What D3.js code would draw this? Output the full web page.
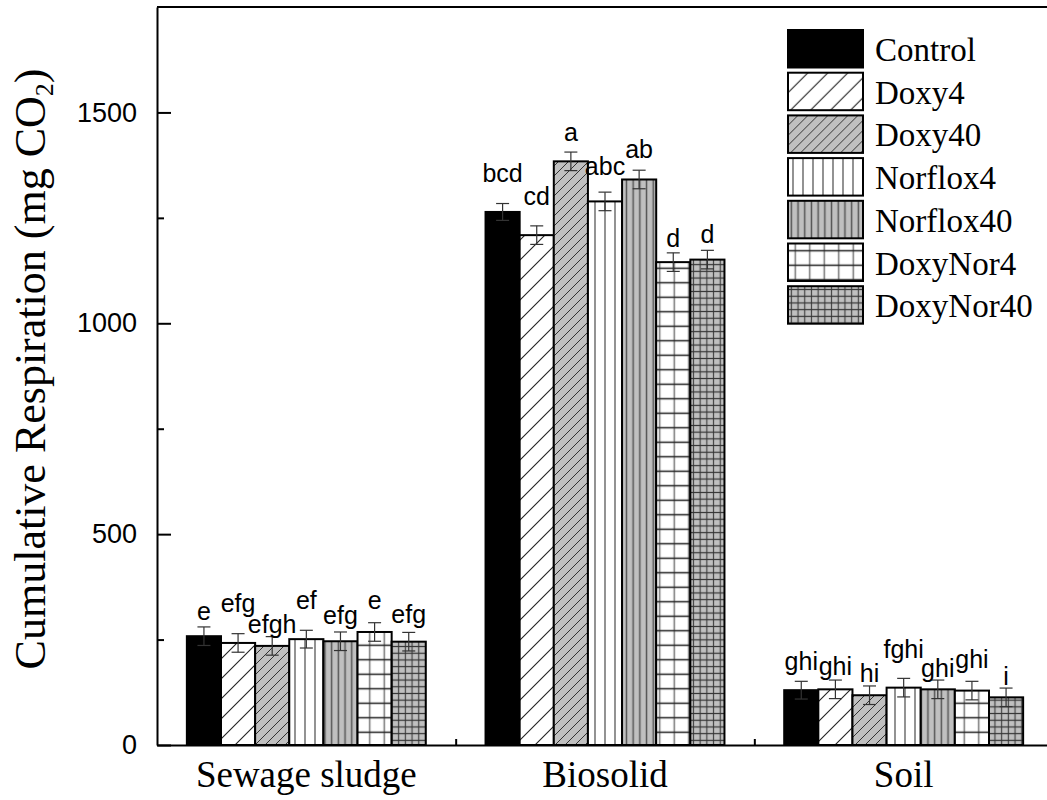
<!DOCTYPE html>
<html>
<head>
<meta charset="utf-8">
<script src="https://cdn.jsdelivr.net/npm/d3@7"></script>
<style>
  body { margin: 0; background: #fff; }
  svg { display: block; }
</style>
</head>
<body>
<svg id="chart" width="1047" height="800"></svg>
<script>
const categories = ["Sewage sludge", "Biosolid", "Soil"];
const series = ["Control", "Doxy4", "Doxy40", "Norflox4", "Norflox40", "DoxyNor4", "DoxyNor40"];

// values per series, in category order
const control   = [258, 1264, 130];
const doxy4     = [242, 1209, 132];
const doxy40    = [235, 1384, 118];
const norflox4  = [251, 1289, 136];
const norflox40 = [246, 1341, 132];
const doxyNor4  = [268, 1145, 129];
const doxyNor40 = [245, 1151, 113];

// standard errors
const errControl   = [22, 20, 21];
const errDoxy4     = [22, 22, 22];
const errDoxy40    = [22, 22, 22];
const errNorflox4  = [21, 22, 22];
const errNorflox40 = [22, 22, 22];
const errDoxyNor4  = [22, 22, 22];
const errDoxyNor40 = [22, 22, 22];

// significance letters, and the value level at which each one sits
const lettersSludge   = ["e", "efg", "efgh", "ef", "efg", "e", "efg"];
const lettersBiosolid = ["bcd", "cd", "a", "abc", "ab", "d", "d"];
const lettersSoil     = ["ghi", "ghi", "hi", "fghi", "ghi", "ghi", "i"];
const letterAtSludge   = [296, 316, 266, 322, 287, 322, 289];
const letterAtBiosolid = [1336, 1280, 1432, 1352, 1392, 1182, 1190];
const letterAtSoil     = [178, 166, 150, 206, 162, 182, 142];

const yMajor = [0, 500, 1000, 1500];
const yMinor = [250, 750, 1250];

const values = [control, doxy4, doxy40, norflox4, norflox40, doxyNor4, doxyNor40];
const errors = [errControl, errDoxy4, errDoxy40, errNorflox4, errNorflox40, errDoxyNor4, errDoxyNor40];
const letters = [lettersSludge, lettersBiosolid, lettersSoil];
const letterAt = [letterAtSludge, letterAtBiosolid, letterAtSoil];

const rows = [];
categories.forEach((c, ci) => {
  series.forEach((s, si) => {
    rows.push({ cat: c, ser: s, v: values[si][ci], e: errors[si][ci],
      lab: letters[ci][si], labAt: letterAt[ci][si] });
  });
});

const svg = d3.select("#chart");
const mLeft = 157, mRight = 1053, mTop = 7, mBottom = 745;

const x = d3.scaleBand().domain(categories).range([mLeft, mRight]).paddingInner(0.2).paddingOuter(0.1);
const xs = d3.scaleBand().domain(series).range([0, x.bandwidth()]);
const y = d3.scaleLinear().domain([0, 1750]).range([mBottom, mTop]);

// patterns
const defs = svg.append("defs");
const gray = "#c0c0c0";
function pattern(id, w, h, bg, draw) {
  const p = defs.append("pattern").attr("id", id)
    .attr("patternUnits", "userSpaceOnUse").attr("width", w).attr("height", h);
  p.append("rect").attr("width", w).attr("height", h).attr("fill", bg);
  draw(p, w, h);
}
const diag = (col, sw) => (p, w, h) => p.append("path")
  .attr("d", `M0,${h}L${w},0M${-w / 2},${h / 2}L${w / 2},${-h / 2}M${w / 2},${h * 1.5}L${w * 1.5},${h / 2}`)
  .attr("stroke", col).attr("stroke-width", sw);
const vert = (col, sw) => (p, w, h) => p.append("line")
  .attr("x1", w / 2).attr("x2", w / 2).attr("y1", 0).attr("y2", h)
  .attr("stroke", col).attr("stroke-width", sw);
const grid = (vcol, hcol, sw) => (p, w, h) => {
  p.append("line").attr("x1", w / 2).attr("x2", w / 2).attr("y1", 0).attr("y2", h)
    .attr("stroke", vcol).attr("stroke-width", sw);
  p.append("line").attr("x1", 0).attr("x2", w).attr("y1", h / 2).attr("y2", h / 2)
    .attr("stroke", hcol).attr("stroke-width", sw);
};
pattern("p-doxy4", 20, 20, "#fff", diag("#222", 1.1));
pattern("p-doxy40", 10, 10, gray, diag("#333", 1));
pattern("p-nor4", 10, 10, "#fff", vert("#777", 1.6));
pattern("p-nor40", 6.7, 10, gray, vert("#555", 1.5));
pattern("p-dn4", 14.5, 14.5, "#fff", grid("#777", "#222", 1.5));
pattern("p-dn40", 6.7, 6.7, gray, grid("#444", "#333", 1.2));

const fills = {
  Control: "#000", Doxy4: "url(#p-doxy4)", Doxy40: "url(#p-doxy40)",
  Norflox4: "url(#p-nor4)", Norflox40: "url(#p-nor40)",
  DoxyNor4: "url(#p-dn4)", DoxyNor40: "url(#p-dn40)"
};

// axes
const axisFont = "'Liberation Sans', Arial, sans-serif";
const serif = "'Liberation Serif', 'Times New Roman', serif";

const yAxis = svg.append("g").attr("transform", `translate(${mLeft},0)`)
  .call(d3.axisLeft(y).tickValues(yMajor).tickFormat(d3.format("d"))
    .tickSizeInner(-14).tickSizeOuter(0).tickPadding(20));
yAxis.selectAll("text").attr("font-family", axisFont).attr("font-size", 27).attr("fill", "#000");
svg.append("g").attr("transform", `translate(${mLeft},0)`)
  .call(d3.axisLeft(y).tickValues(yMinor).tickSize(-7).tickFormat(""))
  .select(".domain").remove();

const xAxis = svg.append("g").attr("transform", `translate(0,${mBottom})`)
  .call(d3.axisBottom(x).tickSizeInner(-12).tickSizeOuter(0));
xAxis.selectAll("text").attr("font-family", serif).attr("font-size", 37)
  .attr("dy", null).attr("y", 42).attr("fill", "#000");
const bounds = categories.slice(0, -1).map(c => x(c) + x.bandwidth() + x.step() * x.paddingInner() / 2);
svg.append("g").attr("transform", `translate(0,${mBottom})`)
  .call(d3.axisBottom(d3.scaleLinear().domain([mLeft, mRight]).range([mLeft, mRight]))
    .tickValues(bounds).tickSize(-6).tickFormat(""))
  .select(".domain").remove();

svg.selectAll(".tick line").attr("stroke", "#000").attr("stroke-width", 2);
svg.selectAll(".domain").attr("stroke", "#000").attr("stroke-width", 2);

// bars
const bars = svg.append("g");
bars.selectAll("rect").data(rows).join("rect")
  .attr("x", d => x(d.cat) + xs(d.ser))
  .attr("y", d => y(d.v))
  .attr("width", xs.bandwidth())
  .attr("height", d => y(0) - y(d.v))
  .attr("fill", d => fills[d.ser])
  .attr("stroke", "#000").attr("stroke-width", 2);

// error bars
const eb = svg.append("g").attr("stroke", "#333").attr("stroke-width", 1.2);
rows.forEach(d => {
  const cx = x(d.cat) + xs(d.ser) + xs.bandwidth() / 2;
  eb.append("line").attr("x1", cx).attr("x2", cx).attr("y1", y(d.v + d.e)).attr("y2", y(d.v - d.e));
  [d.v + d.e, d.v - d.e].forEach(v => eb.append("line")
    .attr("x1", cx - 6.5).attr("x2", cx + 6.5).attr("y1", y(v)).attr("y2", y(v)));
});

// letters
svg.append("g").selectAll("text").data(rows).join("text")
  .attr("x", d => x(d.cat) + xs(d.ser) + xs.bandwidth() / 2)
  .attr("y", d => y(d.labAt))
  .attr("text-anchor", "middle")
  .attr("font-family", axisFont).attr("font-size", 25)
  .text(d => d.lab);

// frame (top and right)
svg.append("path").attr("d", `M${mLeft},${mTop}H${mRight}V${mBottom}`)
  .attr("fill", "none").attr("stroke", "#000").attr("stroke-width", 2);

// y title
const title = svg.append("text")
  .attr("transform", `translate(45,${(mTop + mBottom) / 2 - 7}) rotate(-90)`)
  .attr("text-anchor", "middle")
  .attr("font-family", serif).attr("font-size", 44);
title.append("tspan").text("Cumulative Respiration (mg CO");
title.append("tspan").attr("font-size", 26).attr("dy", 8).text("2");
title.append("tspan").attr("dy", -8).text(")");

// legend
const legend = svg.append("g").attr("transform", "translate(788,30)");
const li = legend.selectAll("g").data(series).join("g")
  .attr("transform", (d, i) => `translate(0,${i * 42.7})`);
li.append("rect").attr("width", 75).attr("height", 37.5)
  .attr("fill", d => fills[d]).attr("stroke", "#000").attr("stroke-width", 2);
li.append("text").attr("x", 87).attr("y", 31)
  .attr("font-family", serif).attr("font-size", 33)
  .text(d => d);
</script>
</body>
</html>
